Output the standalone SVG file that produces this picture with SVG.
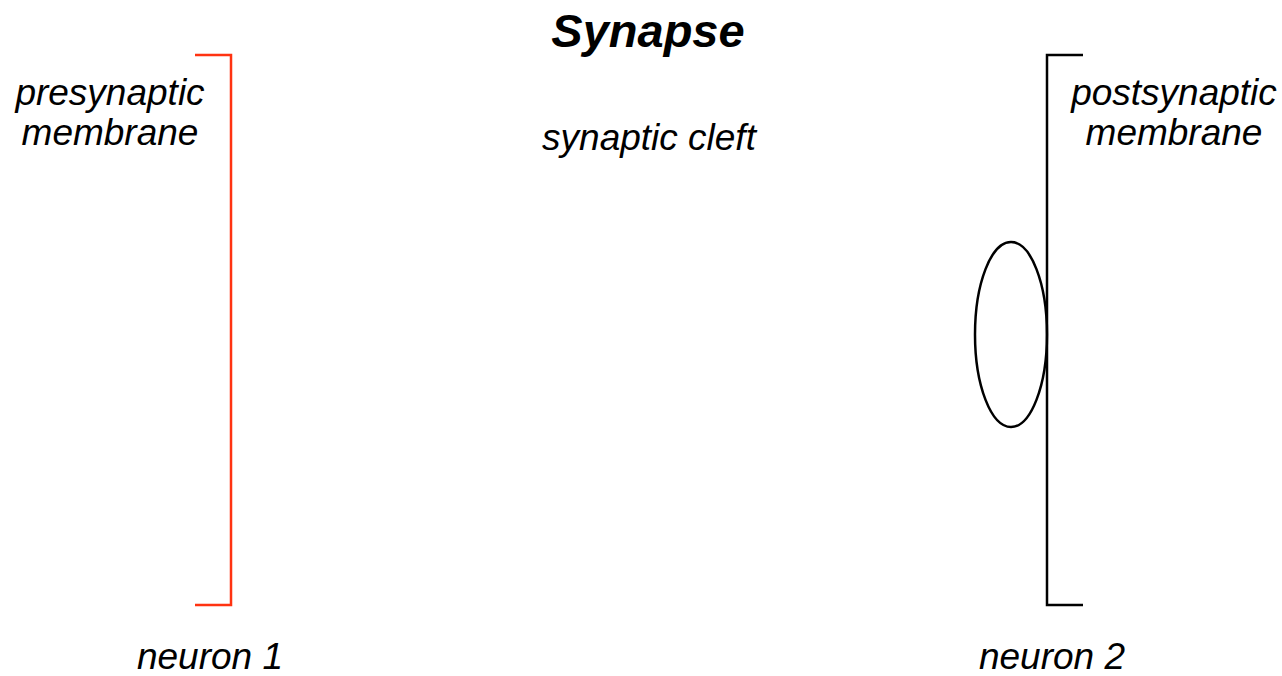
<svg xmlns="http://www.w3.org/2000/svg" width="1282" height="676" viewBox="0 0 1282 676">
<style>
.lbl{font-family:"Liberation Sans",Arial,sans-serif;font-style:italic;font-size:37px;fill:#000;text-anchor:middle}
.title{font-family:"Liberation Sans",Arial,sans-serif;font-style:italic;font-weight:bold;font-size:47px;fill:#000;text-anchor:middle}
.line{fill:none;stroke-width:2.5}
</style>
<rect width="1282" height="676" fill="#fff"/>
<g id="title"><text class="title" x="648" y="47">Synapse</text></g>
<g id="cleft"><text class="lbl" x="649" y="150">synaptic cleft</text></g>
<g id="presynaptic">
<polyline class="line" stroke="#ff3311" points="195,55 231,55 231,605 195,605"/>
<text class="lbl" x="110" y="105">presynaptic</text>
<text class="lbl" x="110" y="145">membrane</text>
</g>
<g id="postsynaptic">
<polyline class="line" stroke="#000" points="1083,55 1047,55 1047,605 1083,605"/>
<text class="lbl" x="1174" y="105">postsynaptic</text>
<text class="lbl" x="1174" y="145">membrane</text>
</g>
<g id="receptor"><ellipse class="line" stroke="#000" cx="1011" cy="334.5" rx="36" ry="92.5"/></g>
<g id="neuron1"><text class="lbl" x="210" y="669">neuron 1</text></g>
<g id="neuron2"><text class="lbl" x="1052" y="669">neuron 2</text></g>
<g id="connectors"></g>
</svg>
